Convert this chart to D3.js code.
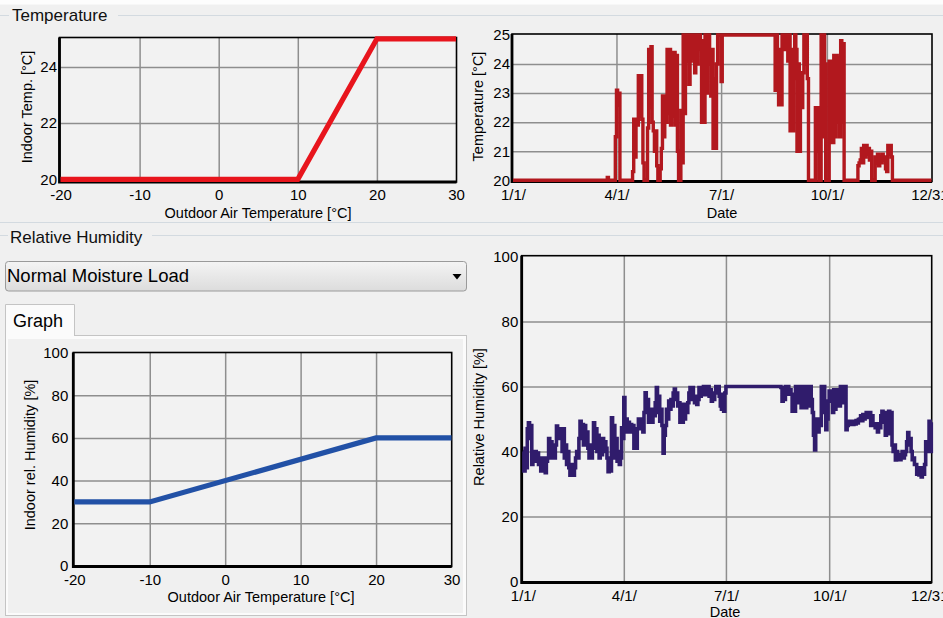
<!DOCTYPE html>
<html><head><meta charset="utf-8">
<script src="https://cdn.jsdelivr.net/npm/d3@7"></script>
<style>
html,body{margin:0;padding:0;background:#f0f0f0;overflow:hidden}
svg{display:block;font-family:"Liberation Sans",Arial,sans-serif}
</style></head><body>
<svg id="c" width="943" height="618"></svg>
<script>
// ---------------- DATA ----------------
const indoorTempOutdoor = [-20, 10, 20, 30];
const indoorTempValues  = [20, 20, 25, 25];
const indoorRhOutdoor   = [-20, -10, 20, 30];
const indoorRhValues    = [30, 30, 60, 60];
const outdoorTicks = [-20, -10, 0, 10, 20, 30];
const indoorTempTicks = [20, 22, 24];
const seriesTempTicks = [20, 21, 22, 23, 24, 25];
const rhTicks = [0, 20, 40, 60, 80, 100];
const dateTickDays = [0, 90, 181, 273, 364];
const dateTickLabels = ["1/1/", "4/1/", "7/1/", "10/1/", "12/31/"];

// indoor temperature over the year: [day of year, °C] (value holds until next entry)
const tempSeries = [
 [0,20],[82,20.1],[83,20],[89,21.5],[90,23.1],[91,22.6],[92,23.0],[93,20],
 [104,20.3],[105,22.1],[106,20.8],[107,22.1],[108,21.9],[109,23.6],[110,22.2],[111,23.6],[112,22.1],[113,20.6],[114,20],
 [117,21.8],[118,24.5],[119,22.5],[120,24.6],[121,22.0],[122,21.7],[123,21.0],[124,21.7],[125,20.5],[126,20],
 [128,20.4],[129,21.1],[130,22.9],[131,21.5],[132,22.9],[133,22.0],[134,24.5],[135,22.3],[136,24.5],[137,21.9],[138,24.4],[139,22.2],[140,24.4],[141,21.9],[142,24.3],[143,21.0],[144,20],
 [146,22.4],[147,20.6],[148,25],[149,22.3],[150,25],[151,24.1],[152,25],[153,23.3],[154,24.1],[155,25],[156,24.2],[157,25],[158,23.7],[159,25],[160,24.0],[161,25],[163,24.5],[164,22.0],[165,24.8],[166,22.0],[167,25],[168,23.0],[169,25],[171,24.0],[172,22.9],[173,24.5],[174,21.1],[175,23.5],[176,21.1],[177,24.0],[178,25],[181,23.4],[182,25],
 [228,23.1],[229,25],[230,23.1],[231,22.6],[232,24.5],[233,22.6],[234,25],[235,24.5],[236,25],[237,24.5],[238,25],[239,24.1],[240,25],[241,21.7],[242,24.5],[243,21.7],[244,23.5],[245,25],[246,24.5],[247,21.0],[248,24.0],[249,21.0],[250,23.7],[251,22.5],[252,23.7],[253,25],[254,24.0],[255,25],[256,23.5],[257,20],
 [263,22.5],[264,21.0],[265,22.5],[266,20],[268,25],[269,21.5],[270,25],[271,24.0],[272,20],
 [275,24.1],[276,21.3],[277,24.1],[278,21.3],[279,24.3],[280,21.5],[281,24.3],[282,22.0],[283,24.2],[284,21.5],[285,24.8],[286,22.0],[287,24.7],[288,20],
 [300,20.5],[301,20.6],[302,20.7],[303,21.1],[304,20.6],[305,21.2],[306,20.8],[307,21.2],[308,20.9],[309,21.1],[310,20.7],[311,21.0],[312,20],
 [315,20.8],[316,20.6],[317,20.9],[318,20.5],[319,20.8],[320,20.6],[321,20.9],[322,20.7],[323,20.8],[324,20.4],[325,20.3],[326,21.2],[327,20.9],[328,21.2],[329,20.8],[330,20],[364,20]
];

// indoor relative humidity over the year: [day of year, %]
const rhSeries = [
 [0,40],[1,34],[2,41],[3,35],[4,47],[5,48.8],[6,44],[7,48],[8,36],[9,40],
 [10,38],[11,40],[12,37],[13,39.5],[14,36],[15,38],[16,34],[17,37],[18,35.5],[19,38],
 [20,33.5],[21,37],[22,38],[23,44],[24,40],[25,43],[26,38],[27,40],[28,38],[29,42],
 [30,47.8],[31,44],[32,47],[33,45],[34,46],[35,40],[36,47],[37,38],[38,42],[39,36],
 [40,40],[41,35],[42,32.7],[43,36],[44,33],[45,32.7],[46,35],[47,38],[48,40],[49,38],
 [50,44],[51,49.3],[52,45],[53,48.3],[54,42],[55,48],[56,44],[57,46],[58,41],[59,38],
 [60,42],[61,38],[62,41],[63,48.8],[64,43],[65,47],[66,40],[67,45],[68,38],[69,42],
 [70,39],[71,44],[72,40],[73,43],[74,41],[75,38],[76,33.8],[77,36],[78,34],[79,50.4],
 [80,40],[81,48],[82,38],[83,44],[84,37],[85,40],[86,36],[87,38],[88,47.3],[89,44],
 [90,56.6],[91,48],[92,50],[93,46],[94,49],[95,47],[96,48.3],[97,46],[98,48],[99,41],
 [100,44],[101,41],[102,47],[103,50],[104,48],[105,47],[106,50],[107,46],[108,52],[109,58.1],
 [110,52],[111,56],[112,49],[113,53],[114,50],[115,49],[116,53],[117,51],[118,55],[119,59.7],
 [120,52],[121,57],[122,49.3],[123,53],[124,48],[125,39.5],[126,45],[127,48],[128,53],[129,50],
 [130,55.5],[131,53],[132,56],[133,54],[134,58],[135,59.2],[136,56],[137,58],[138,54],[139,55],
 [140,49],[141,52],[142,49],[143,54.5],[144,50],[145,54],[146,52],[147,55],[148,58],[149,59.7],
 [150,56],[151,59.7],[152,57],[153,55],[154,57],[155,54.5],[156,56],[157,59.7],[158,57],[159,59],
 [160,58],[161,60],[162,57.5],[163,60],[164,59],[165,60],[166,57],[167,59],[168,55.5],[169,58],
 [170,56],[171,58],[172,60],[173,58],[174,60],[175,57],[176,54],[177,53],[178,57.6],[179,52.4],
 [180,58],[181,60],
 [230,59.7],[231,55.5],[232,58],[233,56],[234,60],[235,57.6],[236,60],[237,58],[238,59],[239,57.6],
 [240,52.4],[241,56],[242,52.4],[243,60],[244,55],[245,60],[246,56],[247,60],[248,53.5],[249,58],
 [250,55],[251,60],[252,53.5],[253,58],[254,60],[255,54],[256,60],[257,56],[258,52],[259,45],
 [260,40.5],[261,46],[262,50],[263,46],[264,49],[265,48],[266,60],[267,52],[268,60],[269,55],
 [270,46.7],[271,50],[272,55.5],[273,58.6],[274,55.5],[275,57],[276,52],[277,59],[278,53],[279,57],
 [280,55],[281,59],[282,54],[283,60],[284,55],[285,59],[286,57],[287,60],[288,46.7],[289,48],
 [290,48.3],[291,49.3],[292,48.5],[293,49],[294,48.3],[295,49.3],[296,48.5],[297,49.5],[298,48.8],[299,49.8],
 [300,50],[301,51],[302,49.5],[303,51.4],[304,50],[305,51.4],[306,52],[307,50.5],[308,51],[309,52],
 [310,48],[311,51],[312,48],[313,48.3],[314,47.3],[315,48.5],[316,46],[317,48],[318,47.3],[319,51],
 [320,52.4],[321,49],[322,52],[323,45],[324,50],[325,45.5],[326,52.4],[327,48],[328,52],[329,42],
 [330,40],[331,42],[332,37.4],[333,40],[334,38],[335,39],[336,37.5],[337,39],[338,40],[339,38],
 [340,39],[341,40],[342,43],[343,45.8],[344,42],[345,44],[346,40],[347,37.5],[348,38],[349,36],
 [350,36],[351,33],[352,34.5],[353,32.8],[354,35],[355,32.2],[356,34],[357,33],[358,36],[359,43],
 [360,40],[361,42],[362,49.3],[363,40],[364,49]
];

// ---------------- DRAWING ----------------
const FONT = "'Liberation Sans', Arial, sans-serif";
const svg = d3.select("#c");
const W = 943, H = 618;
const plain = d => String(d);
svg.append("rect").attr("width", W).attr("height", H).attr("fill", "#f0f0f0");
svg.append("rect").attr("width", W).attr("height", 4.5).attr("fill", "#fdfdfd");

function hline(x0, x1, y, col) {
  svg.append("line").attr("x1", x0).attr("x2", x1).attr("y1", y).attr("y2", y)
    .attr("stroke", col || "#d3dae0").attr("stroke-width", 1);
}
// group boxes
hline(0, 9, 15.5); hline(118, W, 15.5);
hline(0, W, 222.5);
hline(0, 8, 235.5); hline(152, W, 235.5);
svg.append("text").attr("x", 12).attr("y", 20.5).attr("font-size", 17).attr("font-family", FONT).attr("fill", "#111").text("Temperature");
svg.append("text").attr("x", 10).attr("y", 243).attr("font-size", 17).attr("font-family", FONT).attr("fill", "#111").text("Relative Humidity");

// dropdown
const defs = svg.append("defs");
const grad = defs.append("linearGradient").attr("id", "dd").attr("x1", 0).attr("x2", 0).attr("y1", 0).attr("y2", 1);
grad.append("stop").attr("offset", "0%").attr("stop-color", "#f4f4f4");
grad.append("stop").attr("offset", "100%").attr("stop-color", "#dcdcdc");
svg.append("rect").attr("x", 5.5).attr("y", 261.5).attr("width", 461).attr("height", 29.5).attr("rx", 3)
  .attr("fill", "url(#dd)").attr("stroke", "#9a9a9a");
svg.append("text").attr("x", 7).attr("y", 282).attr("font-size", 18.5).attr("font-family", FONT).attr("fill", "#000").text("Normal Moisture Load");
svg.append("path").attr("d", "M452.5,274 L461.5,274 L457,279.5 Z").attr("fill", "#000");

// tab panel
svg.append("rect").attr("x", 5.5).attr("y", 335.5).attr("width", 461).attr("height", 280).attr("fill", "#fbfbfb").attr("stroke", "#c4c4c4");
svg.append("rect").attr("x", 8).attr("y", 339).attr("width", 455).attr("height", 274).attr("fill", "#f0f0f0");
svg.append("path").attr("d", "M5.5,336 L5.5,304.5 L74.5,304.5 L74.5,336").attr("fill", "#fbfbfb").attr("stroke", "#c4c4c4");
svg.append("rect").attr("x", 6).attr("y", 334).attr("width", 68).attr("height", 3).attr("fill", "#fbfbfb");
svg.append("text").attr("x", 13).attr("y", 327).attr("font-size", 18).attr("font-family", FONT).attr("fill", "#000").text("Graph");

function chart(o) {
  const x = d3.scaleLinear().domain(o.xDom).range(o.xRange);
  const y = d3.scaleLinear().domain(o.yDom).range(o.yRange);
  const g = svg.append("g");
  const fw = o.fx1 - o.fx0, fh = o.fy1 - o.fy0;
  g.append("rect").attr("x", o.fx0).attr("y", o.fy0).attr("width", fw).attr("height", fh).attr("fill", "#f2f2f2");
  // grid
  g.append("g").attr("transform", `translate(0,${o.fy1})`)
    .call(d3.axisBottom(x).tickValues(o.xTicks.slice(1, -1)).tickSize(-fh).tickFormat(""))
    .call(a => a.select(".domain").remove())
    .selectAll("line").attr("stroke", "#8e8e8e").attr("stroke-width", 1.5);
  g.append("g").attr("transform", `translate(${o.fx0},0)`)
    .call(d3.axisLeft(y).tickValues(o.yGrid).tickSize(-fw).tickFormat(""))
    .call(a => a.select(".domain").remove())
    .selectAll("line").attr("stroke", "#8e8e8e").attr("stroke-width", 1.5);
  // frame
  g.append("rect").attr("x", o.fx0).attr("y", o.fy0).attr("width", fw).attr("height", fh)
    .attr("fill", "none").attr("stroke", "#000").attr("stroke-width", 1.6);
  g.append("path").attr("d", `M${o.fx0},${o.fy0} L${o.fx0},${o.fy1} L${o.fx1},${o.fy1}`)
    .attr("fill", "none").attr("stroke", "#000").attr("stroke-width", 2.8);
  // data line
  const line = d3.line().x(d => x(d[0])).y(d => y(d[1]));
  if (o.curve) line.curve(o.curve);
  g.append("path").datum(o.data).attr("d", line).attr("fill", "none")
    .attr("stroke", o.color).attr("stroke-width", o.width).attr("stroke-linejoin", "miter").attr("stroke-linecap", "butt");
  // tick labels
  const xa = d3.axisBottom(x).tickValues(o.xTicks).tickSize(0).tickPadding(7.8).tickFormat(o.xFormat || plain);
  g.append("g").attr("transform", `translate(0,${o.fy1})`).call(xa)
    .call(a => a.select(".domain").remove())
    .attr("font-size", 15).attr("font-family", FONT)
    .selectAll("text").attr("fill", "#000");
  g.append("g").attr("transform", `translate(${o.fx0},0)`)
    .call(d3.axisLeft(y).tickValues(o.yTicks).tickSize(0).tickPadding(o.yPad).tickFormat(plain))
    .call(a => a.select(".domain").remove())
    .attr("font-size", 15).attr("font-family", FONT)
    .selectAll("text").attr("fill", "#000");
  // titles
  g.append("text").attr("x", o.xt[0]).attr("y", o.xt[1]).attr("dy", "0.35em").attr("text-anchor", "middle")
    .attr("font-size", 14.5).attr("font-family", FONT).attr("fill", "#000").text(o.xTitle);
  g.append("text").attr("transform", `translate(${o.yt[0]},${o.yt[1]}) rotate(-90)`).attr("dy", "0.35em").attr("text-anchor", "middle")
    .attr("font-size", 14.5).attr("font-family", FONT).attr("fill", "#000").text(o.yTitle);
}

// Top-left: indoor temperature vs outdoor
chart({
  xDom: [-20, 30], xRange: [60.5, 456], yDom: [20, 25], yRange: [179.3, 38.8],
  fx0: 59.5, fx1: 456.5, fy0: 37.5, fy1: 182,
  xTicks: outdoorTicks, yTicks: indoorTempTicks, yGrid: [22, 24], yPad: 2.5,
  data: indoorTempOutdoor.map((v, i) => [v, indoorTempValues[i]]),
  color: "#e8151d", width: 5.2,
  xTitle: "Outdoor Air Temperature [°C]", xt: [258, 212.7],
  yTitle: "Indoor Temp. [°C]", yt: [26.5, 107]
});

// Top-right: temperature over year
chart({
  xDom: [0, 364], xRange: [513, 931.5], yDom: [20, 25], yRange: [180.3, 35],
  fx0: 512, fx1: 932, fy0: 34, fy1: 181.5,
  xTicks: dateTickDays, xFormat: (d, i) => dateTickLabels[i],
  yTicks: seriesTempTicks, yGrid: [21, 22, 23, 24], yPad: 2,
  data: tempSeries, curve: d3.curveStepAfter,
  color: "#b2181e", width: 3.4,
  xTitle: "Date", xt: [722, 213],
  yTitle: "Temperature [°C]", yt: [478, 106.5]
});

// Bottom-left: indoor RH vs outdoor
chart({
  xDom: [-20, 30], xRange: [74.3, 451.5], yDom: [0, 100], yRange: [566, 352.5],
  fx0: 73.3, fx1: 451.7, fy0: 352.5, fy1: 566.5,
  xTicks: outdoorTicks, yTicks: rhTicks, yGrid: [20, 40, 60, 80], yPad: 5,
  data: indoorRhOutdoor.map((v, i) => [v, indoorRhValues[i]]),
  color: "#2251a6", width: 5.2,
  xTitle: "Outdoor Air Temperature [°C]", xt: [261, 596.7],
  yTitle: "Indoor rel. Humidity [%]", yt: [30, 455]
});

// Bottom-right: RH over year
chart({
  xDom: [0, 364], xRange: [522.8, 931.3], yDom: [0, 100], yRange: [581.5, 256.5],
  fx0: 521.7, fx1: 931.7, fy0: 255.7, fy1: 582.5,
  xTicks: dateTickDays, xFormat: (d, i) => dateTickLabels[i],
  yTicks: rhTicks, yGrid: [20, 40, 60, 80], yPad: 3.4,
  data: rhSeries, curve: d3.curveStepAfter,
  color: "#301c6c", width: 3.6,
  xTitle: "Date", xt: [725, 612],
  yTitle: "Relative Humidity [%]", yt: [479.3, 417]
});
</script>
</body></html>
